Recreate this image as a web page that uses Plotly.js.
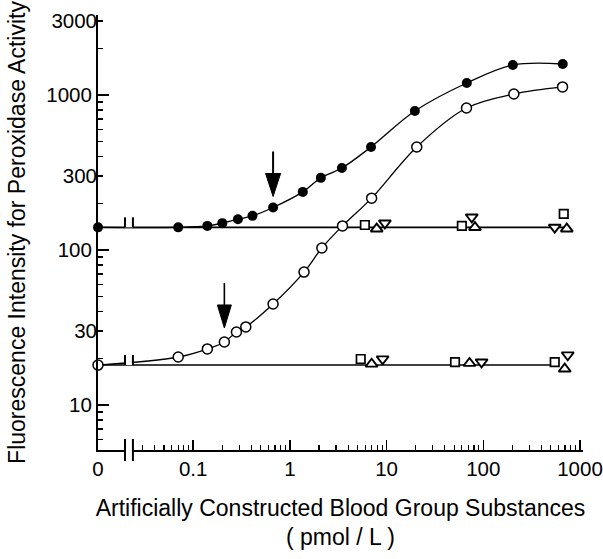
<!DOCTYPE html>
<html>
<head>
<meta charset="utf-8">
<script src="https://cdn.plot.ly/plotly-3.0.1.min.js"></script>
<style>html,body{margin:0;padding:0;background:#fff;}#chart{width:603px;height:559px;}</style>
</head>
<body>
<div id="chart"></div>
<script>
// ---- data ----
// "0" concentration is drawn at the left end of the broken log axis
var ZERO_POS = Math.pow(10, -1.9845);

var filledX = [0, 0.07, 0.14, 0.2, 0.29, 0.41, 0.67, 1.36, 2.09, 3.45, 6.9, 19.6, 67.5, 202, 663];
var filledY = [140, 140, 143, 149, 158, 166, 188, 237, 292, 338, 462, 788, 1195, 1563, 1585];

var openX = [0, 0.07, 0.14, 0.21, 0.28, 0.35, 0.67, 1.4, 2.14, 3.5, 7, 20.5, 67, 207, 660];
var openY = [18.1, 20.4, 23, 25.5, 29.6, 31.9, 44.8, 72, 103, 143, 216, 462, 824, 1014, 1127];

// control substances, upper (high) level
var sqHiX = [5.96, 60, 679],  sqHiY = [145, 143, 171];
var upHiX = [7.9, 82, 730],   upHiY = [137, 140, 137];
var dnHiX = [9.6, 76, 548],   dnHiY = [149, 163, 140];
// control substances, lower level
var sqLoX = [5.4, 51, 548],   sqLoY = [19.8, 18.9, 18.9];
var upLoX = [7.0, 72, 695],   upLoY = [18.4, 18.6, 17.1];
var dnLoX = [9.1, 96, 747],   dnLoY = [19.8, 18.9, 21];

// control baselines
var baseHiX = [0, 760], baseHiY = [140, 140];
var baseLoX = [0, 560], baseLoY = [18.1, 18.1];

// ticks
var xMajorVals = [0, 0.1, 1, 10, 100, 1000];
var xMajorText = ['0', '0.1', '1', '10', '100', '1000'];
var xMinorVals = [0.03,0.04,0.05,0.06,0.07,0.08,0.09,
                  0.2,0.3,0.4,0.5,0.6,0.7,0.8,0.9,
                  2,3,4,5,6,7,8,9,
                  20,30,40,50,60,70,80,90,
                  200,300,400,500,600,700,800,900];
var yMajorVals = [10, 100, 1000];
var yMajorText = ['10', '100', '1000'];
var yLabelVals = [30, 300, 3000];
var yLabelText = ['30', '300', '3000'];
var yMinorVals = [6,7,8,9,20,30,40,50,60,70,80,90,
                  200,300,400,500,600,700,800,900,2000,3000];

function pos(v){ return v === 0 ? ZERO_POS : v; }
function mapX(a){ return a.map(pos); }

var FONT = 'Liberation Sans, Arial, Helvetica, sans-serif';
var BLACK = '#000';
var TICKSIZE = 20.5, TITLESIZE = 23;

var traces = [
  {x: mapX(baseHiX), y: baseHiY, mode:'lines', line:{color:BLACK, width:1.6}, cliponaxis:false, hoverinfo:'skip'},
  {x: mapX(baseLoX), y: baseLoY, mode:'lines', line:{color:BLACK, width:1.6}, cliponaxis:false, hoverinfo:'skip'},
  {x: mapX(filledX), y: filledY, mode:'lines+markers', line:{color:BLACK, width:1.3, shape:'spline', smoothing:1},
   marker:{symbol:'circle', size:10, color:BLACK}, cliponaxis:false},
  {x: mapX(openX), y: openY, mode:'lines+markers', line:{color:BLACK, width:1.3, shape:'spline', smoothing:1},
   marker:{symbol:'circle', size:10, color:'#fff', line:{color:BLACK, width:1.5}}, cliponaxis:false},
  {x: sqHiX, y: sqHiY, mode:'markers', marker:{symbol:'square', size:8.5, color:'#fff', line:{color:BLACK, width:1.7}}, cliponaxis:false},
  {x: upHiX, y: upHiY, mode:'markers', marker:{symbol:'triangle-up', size:10.5, color:'#fff', line:{color:BLACK, width:1.9}}, cliponaxis:false},
  {x: dnHiX, y: dnHiY, mode:'markers', marker:{symbol:'triangle-down', size:10.5, color:'#fff', line:{color:BLACK, width:1.9}}, cliponaxis:false},
  {x: sqLoX, y: sqLoY, mode:'markers', marker:{symbol:'square', size:8.5, color:'#fff', line:{color:BLACK, width:1.7}}, cliponaxis:false},
  {x: upLoX, y: upLoY, mode:'markers', marker:{symbol:'triangle-up', size:10.5, color:'#fff', line:{color:BLACK, width:1.9}}, cliponaxis:false},
  {x: dnLoX, y: dnLoY, mode:'markers', marker:{symbol:'triangle-down', size:10.5, color:'#fff', line:{color:BLACK, width:1.9}}, cliponaxis:false},
  // carrier for the second label axis (30/300/3000)
  {x: [], y: [], yaxis:'y2', mode:'markers', showlegend:false, hoverinfo:'skip'}
];

// axis break marks (two bars + white gap) on each horizontal line and the x axis
var BREAK_L = 0.0197, BREAK_R = 0.0238;
var shapes = [];
function addBreak(yref, yanchor, half){
  shapes.push({type:'rect', xref:'x', yref:yref, x0:BREAK_L, x1:BREAK_R, ysizemode:'pixel', yanchor:yanchor,
               y0:-3.5, y1:3.5, fillcolor:'#fff', line:{width:0}, layer:'above'});
  [BREAK_L, BREAK_R].forEach(function(bx){
    shapes.push({type:'line', xref:'x', yref:yref, x0:bx, x1:bx, ysizemode:'pixel', yanchor:yanchor,
                 y0:-half, y1:half, line:{color:BLACK, width:2}, layer:'above'});
  });
}
addBreak('y', baseHiY[0], 10);
addBreak('y', baseLoY[0], 10);
addBreak('paper', 0, 11);

// arrows pointing at the detection limits
function addArrow(ax, ay, tip, base, tail, halfW, w){
  shapes.push({type:'line', xref:'x', yref:'y', xsizemode:'pixel', ysizemode:'pixel', xanchor:ax, yanchor:ay,
               x0:0, x1:0, y0:base-1, y1:tail, line:{color:BLACK, width:w}, layer:'above'});
  shapes.push({type:'path', xref:'x', yref:'y', xsizemode:'pixel', ysizemode:'pixel', xanchor:ax, yanchor:ay,
               path:'M0,'+tip+' L'+(-halfW)+','+base+' L'+halfW+','+base+' Z',
               fillcolor:BLACK, line:{color:BLACK, width:1}, layer:'above'});
}
addArrow(filledX[6], filledY[6], 11, 34, 56, 7.5, 2);
addArrow(openX[3], openY[3], 14, 37, 59, 7, 1.6);

var layout = {
  width: 603, height: 559,
  margin: {l:98, r:20, t:15, b:109},
  paper_bgcolor:'#fff', plot_bgcolor:'#fff',
  showlegend:false,
  font:{family:FONT, color:BLACK, size:TICKSIZE},
  xaxis: {
    type:'log', range:[-1.9845, 3.031], showgrid:false, zeroline:false,
    showline:true, linecolor:BLACK, linewidth:1.6,
    ticks:'inside', ticklen:10, tickwidth:1.5, tickcolor:BLACK,
    tickmode:'array', tickvals: mapX(xMajorVals), ticktext: xMajorText,
    tickfont:{family:FONT, size:TICKSIZE, color:BLACK},
    minor:{tickmode:'array', tickvals:xMinorVals, ticks:'inside', ticklen:5, tickwidth:1.2, tickcolor:BLACK, showgrid:false},
    title:{text:'Artificially Constructed Blood Group Substances<br>( pmol / L )', font:{family:FONT, size:TITLESIZE, color:BLACK}, standoff:20}
  },
  yaxis: {
    type:'log', range:[0.7097, 3.516], showgrid:false, zeroline:false,
    showline:true, linecolor:BLACK, linewidth:2,
    ticks:'inside', ticklen:11, tickwidth:1.5, tickcolor:BLACK,
    tickmode:'array', tickvals:yMajorVals, ticktext:yMajorText,
    tickfont:{family:FONT, size:TICKSIZE, color:BLACK},
    minor:{tickmode:'array', tickvals:yMinorVals, ticks:'inside', ticklen:5, tickwidth:1.2, tickcolor:BLACK, showgrid:false},
    title:{text:'Fluorescence Intensity for Peroxidase Activity', font:{family:FONT, size:TITLESIZE, color:BLACK}, standoff:14}
  },
  yaxis2: {
    type:'log', range:[0.7097, 3.516], overlaying:'y', side:'left', anchor:'x',
    showgrid:false, zeroline:false, showline:false,
    ticks:'inside', ticklen:5, tickwidth:1.2, tickcolor:BLACK,
    tickmode:'array', tickvals:yLabelVals, ticktext:yLabelText,
    tickfont:{family:FONT, size:TICKSIZE, color:BLACK}
  },
  shapes: shapes
};

Plotly.newPlot('chart', traces, layout, {displayModeBar:false, staticPlot:true});
</script>
</body>
</html>
